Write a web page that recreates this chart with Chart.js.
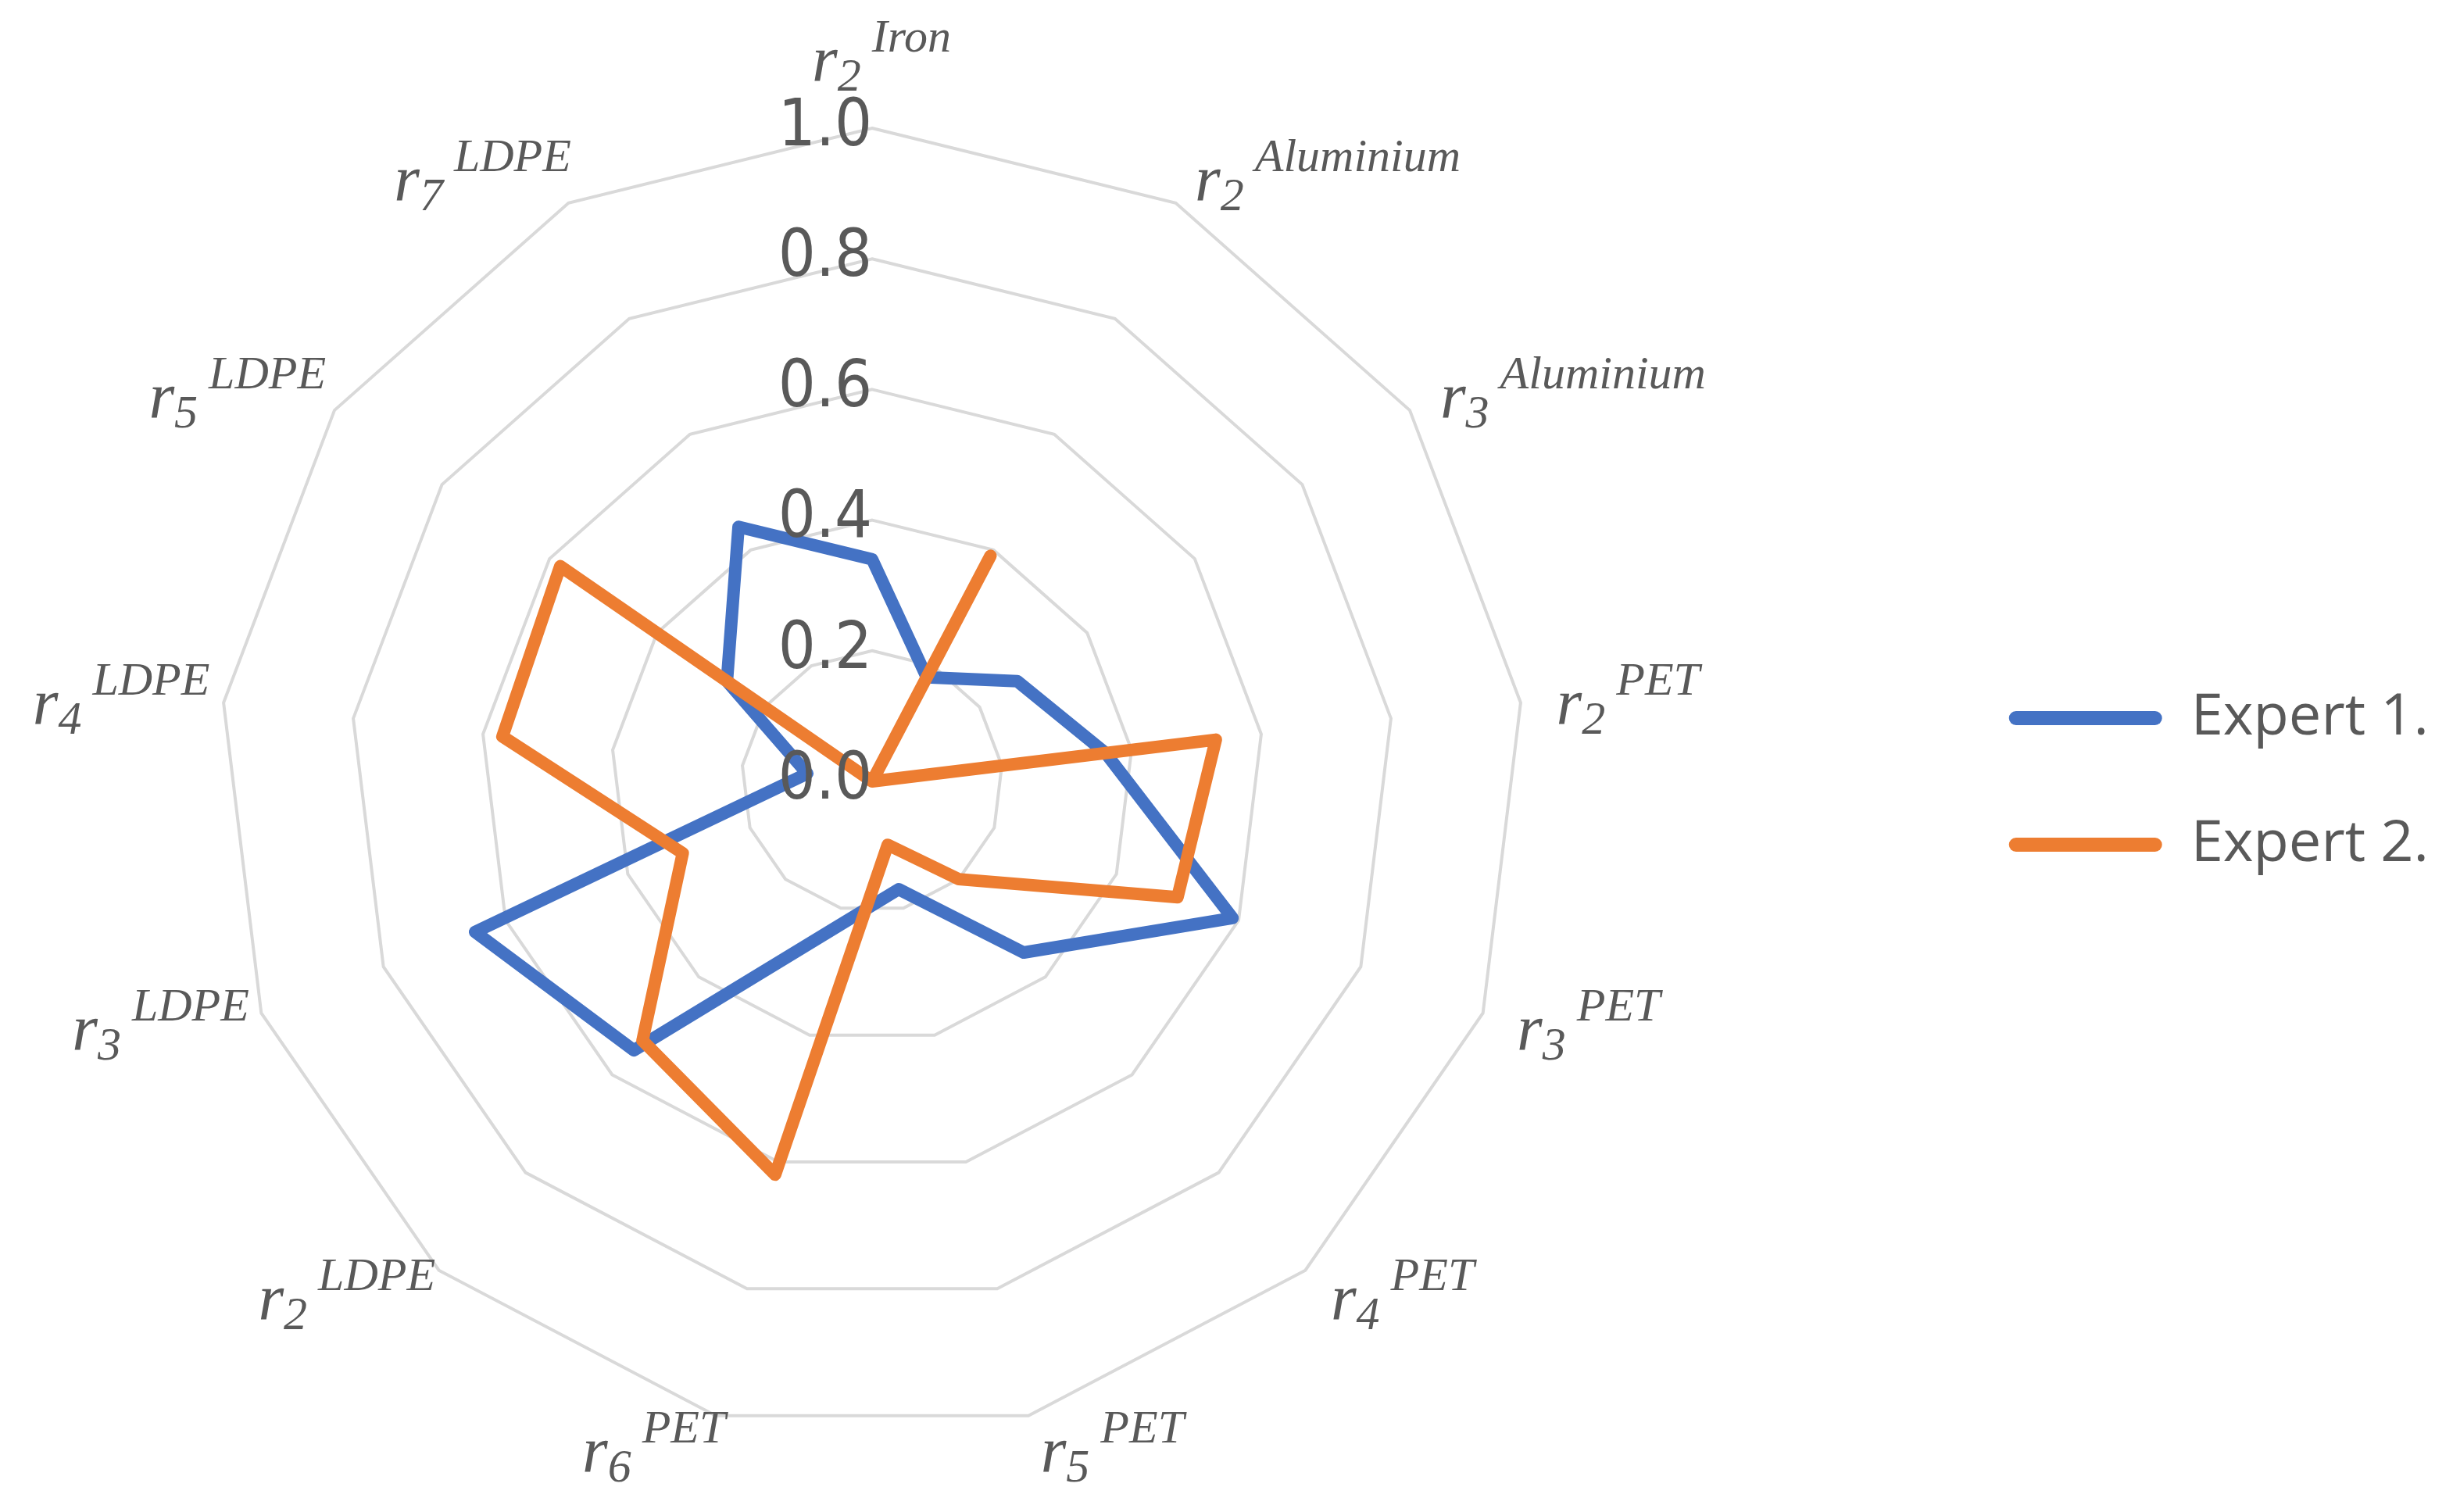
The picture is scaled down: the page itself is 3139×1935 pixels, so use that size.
<!DOCTYPE html>
<html>
<head>
<meta charset="utf-8">
<script src="https://cdn.jsdelivr.net/npm/chart.js@4.4.0/dist/chart.umd.min.js"></script>
<style>
  html, body { margin: 0; padding: 0; background: #ffffff; }
  canvas { display: block; }
</style>
</head>
<body>
<canvas id="c" width="3139" height="1935"></canvas>
<script>
// ---- data ----
const categories = ['r2 Iron', 'r2 Aluminium', 'r3 Aluminium', 'r2 PET', 'r3 PET', 'r4 PET', 'r5 PET', 'r6 PET', 'r2 LDPE', 'r3 LDPE', 'r4 LDPE', 'r5 LDPE', 'r7 LDPE'];
const labelBase = 'r';
const labelSub = ['2', '2', '3', '2', '3', '4', '5', '6', '2', '3', '4', '5', '7'];
const labelSup = ['Iron', 'Aluminium', 'Aluminium', 'PET', 'PET', 'PET', 'PET', 'PET', 'LDPE', 'LDPE', 'LDPE', 'LDPE', 'LDPE'];
const seriesNames = ['Expert 1.', 'Expert 2.'];
const expert1 = [0.34, 0.18, 0.27, 0.36, 0.59, 0.35, 0.17, 0.23, 0.55, 0.65, 0.10, 0.27, 0.44];
const expert2 = [0.00, 0.39, 0.00, 0.53, 0.50, 0.20, 0.10, 0.62, 0.53, 0.31, 0.57, 0.58, 0.00];
const tickValues = [0, 0.2, 0.4, 0.6, 0.8, 1.0];

// ---- styles ----
const BLUE = '#4472C4';
const ORANGE = '#ED7D31';
const TEXT = '#595959';
const GRID = '#D9D9D9';

const mathLabels = {
  id: 'mathLabels',
  afterDraw(chart) {
    const s = chart.scales.r;
    const ctx = chart.ctx;
    const fMain = 'italic 84px "Liberation Serif", "DejaVu Serif", serif';
    const fSub = 'italic 60px "Liberation Serif", "DejaVu Serif", serif';
    const fSup = 'italic 60px "Liberation Serif", "DejaVu Serif", serif';
    ctx.save();
    ctx.fillStyle = TEXT;
    ctx.textBaseline = 'alphabetic';
    ctx.textAlign = 'left';
    labelSub.forEach((sub, i) => {
      const sup = labelSup[i];
      const ang = s.getIndexAngle(i);
      const sn = Math.sin(ang), cs = Math.cos(ang);
      const p = s.getPointPosition(i, s.drawingArea + 40);
      ctx.font = fMain; const wR = ctx.measureText(labelBase).width;
      ctx.font = fSub; const wS = ctx.measureText(sub).width;
      ctx.font = fSup; const wP = ctx.measureText(sup).width;
      const gap = 14;
      const total = wR + wS + gap + wP;
      let left, base;
      if (Math.abs(sn) < 0.05) {
        left = p.x + 12 - total / 2;
      } else if (sn > 0) {
        left = p.x + 6;
      } else {
        left = p.x + 22 - total;
      }
      if (Math.abs(sn) < 0.05 && cs > 0) {
        base = p.y - 20;
      } else {
        base = p.y + 33;
      }
      ctx.font = fMain; ctx.fillText(labelBase, left, base);
      ctx.font = fSub; ctx.fillText(sub, left + wR, base + 12);
      ctx.font = fSup; ctx.fillText(sup, left + wR + wS + gap, base - 38);
    });
    ctx.restore();
  }
};

new Chart(document.getElementById('c'), {
  type: 'radar',
  data: {
    labels: categories,
    datasets: [
      { label: seriesNames[0], data: expert1, borderColor: BLUE, backgroundColor: 'rgba(0,0,0,0)', order: 1 },
      { label: seriesNames[1], data: expert2, borderColor: ORANGE, backgroundColor: 'rgba(0,0,0,0)', order: 0 }
    ]
  },
  options: {
    responsive: false,
    animation: false,
    devicePixelRatio: 1,
    layout: { padding: { top: 120, bottom: 55, left: 280, right: 21 } },
    elements: {
      line: { borderWidth: 16, borderJoinStyle: 'round', borderCapStyle: 'round', tension: 0, fill: false },
      point: { radius: 0, hoverRadius: 0 }
    },
    scales: {
      r: {
        min: -0.000001,
        max: 1,
        startAngle: 0,
        angleLines: { display: false },
        grid: {
          color: (c) => (c.index === 0 ? 'rgba(0,0,0,0)' : GRID),
          lineWidth: 4
        },
        pointLabels: { display: false },
        afterBuildTicks: (scale) => { scale.ticks = tickValues.map(v => ({ value: v })); },
        afterFit: (scale) => { scale.xCenter = scale.left + scale.drawingArea; },
        ticks: {
          z: 1,
          showLabelBackdrop: false,
          color: TEXT,
          font: { family: '"Liberation Sans Narrow", "DejaVu Sans Condensed", Roboto, sans-serif', size: 84 },
          callback: (v) => Math.abs(v).toFixed(1) + '\u2007\u2008\u2007'
        }
      }
    },
    plugins: {
      tooltip: { enabled: false },
      legend: {
        position: 'right',
        align: 'center',
        labels: {
          color: TEXT,
          font: { family: '"Open Sans", sans-serif', size: 74 },
          boxWidth: 196,
          boxHeight: 18,
          padding: 88,
          generateLabels: (chart) => chart.data.datasets.map((ds, i) => ({
            text: ds.label,
            fillStyle: ds.borderColor,
            strokeStyle: ds.borderColor,
            lineWidth: 0,
            borderRadius: 9,
            hidden: !chart.isDatasetVisible(i),
            datasetIndex: i,
            fontColor: TEXT
          }))
        }
      }
    }
  },
  plugins: [mathLabels]
});
</script>
</body>
</html>
